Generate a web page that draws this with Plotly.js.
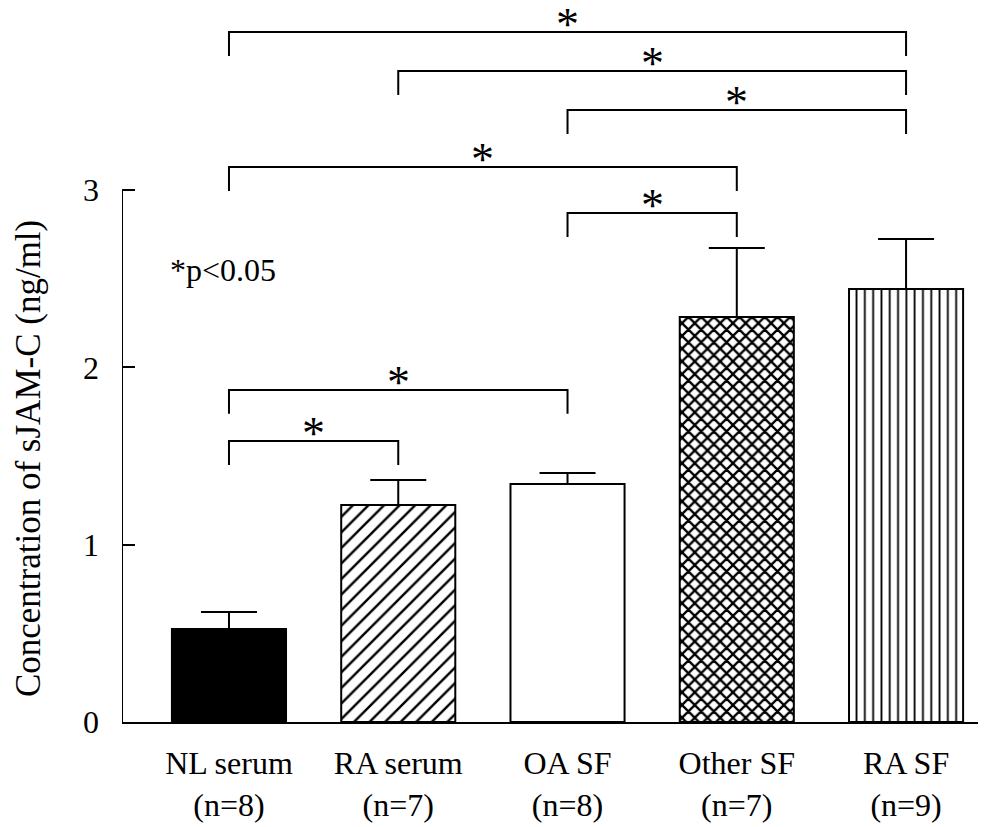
<!DOCTYPE html>
<html>
<head>
<meta charset="utf-8">
<script src="https://cdn.plot.ly/plotly-3.0.1.min.js"></script>
<style>html,body{margin:0;padding:0;background:#fff;}#chart{width:1003px;height:827px;}</style>
</head>
<body>
<div id="chart"></div>
<script>
// ---- data ----
const categories = ["NL serum", "RA serum", "OA SF", "Other SF", "RA SF"];
const sampleSizes = ["(n=8)", "(n=7)", "(n=8)", "(n=7)", "(n=9)"];
const means = [0.525, 1.224, 1.342, 2.284, 2.442];
const sems = [0.095, 0.141, 0.062, 0.389, 0.282];
const yTickVals = [0, 1, 2, 3];
// significance comparisons: [fromIndex, toIndex, bracket level (ng/ml)]
const compFrom = [0, 1, 2, 0, 2, 0, 0];
const compTo = [4, 4, 4, 3, 3, 2, 1];
const compLevel = [3.892, 3.672, 3.452, 3.130, 2.871, 1.873, 1.585];
const sigLabel = "*";
const noteText = "*p<0.05";
const yTitle = "Concentration of sJAM-C (ng/ml)";

// ---- styles ----
const FONT = "Liberation Serif, Times New Roman, serif";
const fills = ["#000000", "#ffffff", "#ffffff", "#ffffff", "#ffffff"];
const patterns = ["", "/", "", "x", "|"];
const patternSize = [8, 11, 8, 9, 8.3];
const patternSolidity = [0.2, 0.22, 0.2, 0.45, 0.22];
const legDrop = 0.135;

const xIdx = categories.map((_, i) => i);
const traces = [];
for (let i = 0; i < categories.length; i++) {
  const marker = {color: fills[i], line: {color: "#000", width: 2}};
  if (patterns[i]) {
    marker.pattern = {shape: patterns[i], size: patternSize[i], solidity: patternSolidity[i], fgcolor: "#000000", fgopacity: 1};
  }
  traces.push({
    type: "bar",
    x: [xIdx[i]],
    y: [means[i]],
    width: 0.674,
    marker: marker,
    error_y: {type: "data", symmetric: false, array: [sems[i]], arrayminus: [0], color: "#000", thickness: 2, width: 28},
    hoverinfo: "skip",
    showlegend: false
  });
}

const annotations = [];
for (let k = 0; k < compFrom.length; k++) {
  const a = compFrom[k], b = compTo[k], lv = compLevel[k];
  traces.push({
    type: "scatter", mode: "lines",
    x: [a, a, b, b],
    y: [lv - legDrop, lv, lv, lv - legDrop],
    line: {color: "#000", width: 2},
    hoverinfo: "skip", showlegend: false, cliponaxis: false
  });
  annotations.push({
    x: (a + b) / 2, y: lv, xref: "x", yref: "y",
    text: sigLabel, showarrow: false, xanchor: "center", yanchor: "bottom", yshift: -20,
    font: {family: FONT, size: 46, color: "#000"}
  });
}
// axis line up to 3 only
traces.push({
  type: "scatter", mode: "lines",
  x: [-0.632, -0.632], y: [0, 3],
  line: {color: "#000", width: 2}, hoverinfo: "skip", showlegend: false, cliponaxis: false
});

annotations.push({
  xref: "paper", yref: "y", x: 0.0537, y: 2.549, xanchor: "left", yanchor: "middle",
  text: noteText, showarrow: false, font: {family: FONT, size: 32, color: "#000"}
});
annotations.push({
  xref: "paper", yref: "y", x: -0.1098, y: 1.483, xanchor: "center", yanchor: "middle",
  text: yTitle, textangle: -90, showarrow: false, font: {family: FONT, size: 35, color: "#000"}
});

const layout = {
  width: 1003, height: 827,
  margin: {l: 122, r: 25, t: 5, b: 105},
  paper_bgcolor: "#fff", plot_bgcolor: "#fff",
  showlegend: false,
  barmode: "overlay",
  font: {family: FONT, color: "#000"},
  xaxis: {
    type: "linear", range: [-0.632, 4.425],
    tickvals: xIdx, ticktext: categories.map((c, i) => c + "<br>" + sampleSizes[i]),
    showgrid: false, zeroline: false, showline: true, linecolor: "#000", linewidth: 2,
    ticks: "", tickfont: {family: FONT, size: 32, color: "#000"}, ticklabelstandoff: 12
  },
  yaxis: {
    range: [0, 4.044], tickvals: yTickVals, ticktext: yTickVals.map(String),
    showgrid: false, zeroline: false, showline: false,
    ticks: "inside", ticklen: 13, tickwidth: 2, tickcolor: "#000",
    tickfont: {family: FONT, size: 32, color: "#000"}, ticklabelstandoff: 22
  },
  annotations: annotations
};

Plotly.newPlot("chart", traces, layout, {displayModeBar: false, staticPlot: true});
</script>
</body>
</html>
